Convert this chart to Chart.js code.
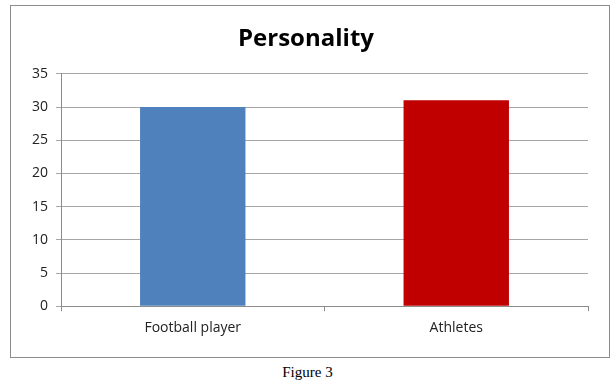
<!DOCTYPE html>
<html>
<head>
<meta charset="utf-8">
<script src="https://cdn.jsdelivr.net/npm/chart.js@4/dist/chart.umd.min.js"></script>
<style>
  body { margin: 0; background: #fff; width: 615px; height: 387px; position: relative; overflow: hidden; }
  #frame { position: absolute; left: 10px; top: 5px; width: 598px; height: 351px; border: 1px solid #8c8c8c; }
  #wrap { position: absolute; left: 0; top: 0; width: 598px; height: 351px; }
  #caption { position: absolute; left: 0; width: 615px; top: 364px; text-align: center;
    font-family: "Liberation Serif", serif; font-size: 15px; color: #000; }
</style>
</head>
<body>
<div id="frame"><div id="wrap"><canvas id="chart"></canvas></div></div>
<div id="caption">Figure 3</div>
<script>
// values
const categories = ["Football player", "Athletes"];
const scores = [30, 31];
const barColors = ['#4f81bd', '#c00000'];

new Chart("chart", {
    type: "bar",
    data: {
        labels: categories,
        datasets: [{
            data: scores,
            backgroundColor: barColors,
            borderWidth: 0,
            categoryPercentage: 1,
            barPercentage: 0.4
        }]
    },
    options: {
        responsive: true,
        maintainAspectRatio: false,
        animation: false,
        layout: { padding: { left: 13, right: 21, top: 0, bottom: 13 } },
        plugins: {
            legend: { display: false },
            tooltip: { enabled: false },
            title: {
                display: true,
                text: "Personality",
                color: '#000',
                font: { family: "Open Sans", size: 24, weight: 'bold' },
                padding: { top: 19, bottom: 20 }
            }
        },
        scales: {
            x: {
                grid: { drawOnChartArea: false, drawTicks: true, tickLength: 5, color: '#8c8c8c' },
                border: { color: '#8c8c8c' },
                ticks: { color: '#222', font: { family: "Open Sans", size: 14 }, padding: 8 }
            },
            y: {
                min: 0, max: 35,
                ticks: { stepSize: 5, color: '#222', font: { family: "Open Sans", size: 14 }, padding: 8 },
                grid: { color: '#a6a6a6', tickLength: 5 },
                border: { color: '#8c8c8c' }
            }
        }
    }
});
</script>
</body>
</html>
